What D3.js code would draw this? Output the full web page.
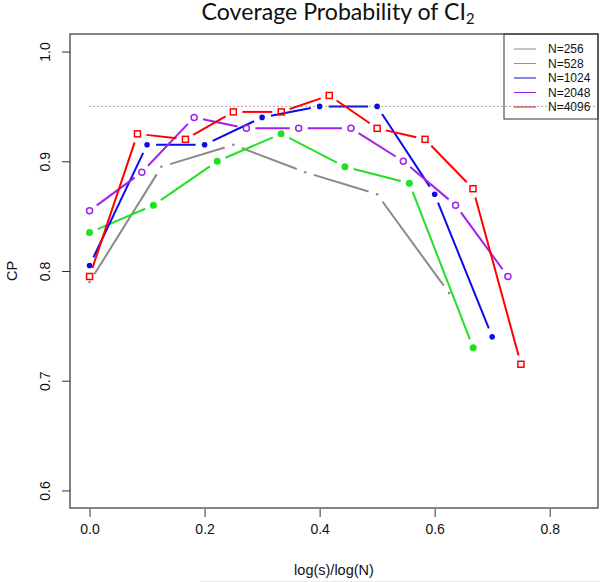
<!DOCTYPE html>
<html>
<head>
<meta charset="utf-8">
<script src="https://cdn.jsdelivr.net/npm/d3@7"></script>
<style>
  html, body { margin: 0; padding: 0; background: #fff; }
  svg { display: block; }
</style>
</head>
<body>
<div id="chart"></div>
<script>
// ---- data ----
const seriesNames = ["N=256", "N=528", "N=1024", "N=2048", "N=4096"];
const x256  = [0, 0.125, 0.25, 0.375, 0.5, 0.625];
const cp256 = [0.79, 0.895, 0.915, 0.89, 0.87, 0.78];
const x528  = [0, 0.111, 0.222, 0.333, 0.444, 0.556, 0.667];
const cp528 = [0.835, 0.86, 0.90, 0.925, 0.895, 0.88, 0.73];
const x1024  = [0, 0.1, 0.2, 0.3, 0.4, 0.5, 0.6, 0.7];
const cp1024 = [0.805, 0.915, 0.915, 0.94, 0.95, 0.95, 0.87, 0.74];
const x2048  = [0, 0.0909, 0.1818, 0.2727, 0.3636, 0.4545, 0.5455, 0.6364, 0.7273];
const cp2048 = [0.855, 0.89, 0.94, 0.93, 0.93, 0.93, 0.90, 0.86, 0.795];
const x4096  = [0, 0.0833, 0.1667, 0.25, 0.3333, 0.4167, 0.5, 0.5833, 0.6667, 0.75];
const cp4096 = [0.795, 0.925, 0.92, 0.945, 0.945, 0.96, 0.93, 0.92, 0.875, 0.715];
const nominal = 0.95;
const xTicks = [0.0, 0.2, 0.4, 0.6, 0.8];
const yTicks = [0.6, 0.7, 0.8, 0.9, 1.0];
const xDomain = [-0.034, 0.884];
const yDomain = [0.584, 1.016];

const W = 600, H = 582;
const box = {l: 70, r: 598, t: 34, b: 508};

const svg = d3.select("#chart").append("svg").attr("width", W).attr("height", H);
const x = d3.scaleLinear().domain(xDomain).range([box.l, box.r]);
const y = d3.scaleLinear().domain(yDomain).range([box.b, box.t]);

const styles = [
  {color: "#8a8a8a", mark: "dot"},
  {color: "#22e022", mark: "filled", r: 3.5},
  {color: "#0a0af0", mark: "filled", r: 2.8},
  {color: "#a020f0", mark: "circle", r: 3},
  {color: "#ff0000", mark: "square", s: 6}
];
const xsList = [x256, x528, x1024, x2048, x4096];
const ysList = [cp256, cp528, cp1024, cp2048, cp4096];

svg.append("rect").attr("width", W).attr("height", H).attr("fill", "#fff");

// title
const title = svg.append("text")
  .attr("x", 338).attr("y", 20)
  .attr("text-anchor", "middle")
  .attr("font-family", "Lato, 'Open Sans', sans-serif")
  .attr("font-size", 22)
  .attr("fill", "#111");
title.append("tspan").text("Coverage Probability of CI");
title.append("tspan").attr("font-size", 14).attr("dy", 4).text("2");
// fit width to ~273px
const bb = title.node().getBBox();
if (bb.width > 0) {
  const f = 273 / bb.width;
  title.attr("font-size", 22 * f);
  title.select("tspan:nth-child(2)").attr("font-size", 14 * f);
}

const plot = svg.append("g");

// series (type = "b": points and gapped lines)
const gap = 9;
xsList.forEach((xs, i) => {
  const st = styles[i];
  const pts = xs.map((v, j) => [x(v), y(ysList[i][j])]);
  const g = plot.append("g");
  for (let j = 0; j < pts.length - 1; j++) {
    const [x1, y1] = pts[j], [x2, y2] = pts[j + 1];
    const dx = x2 - x1, dy = y2 - y1, L = Math.hypot(dx, dy);
    if (L <= 2 * gap) continue;
    const ux = dx / L, uy = dy / L;
    g.append("line")
      .attr("x1", x1 + ux * gap).attr("y1", y1 + uy * gap)
      .attr("x2", x2 - ux * gap).attr("y2", y2 - uy * gap)
      .attr("stroke", st.color).attr("stroke-width", 2);
  }
  pts.forEach(([px, py]) => {
    if (st.mark === "dot") {
      g.append("circle").attr("cx", px).attr("cy", py).attr("r", 1.3).attr("fill", st.color);
    } else if (st.mark === "filled") {
      g.append("circle").attr("cx", px).attr("cy", py).attr("r", st.r).attr("fill", st.color);
    } else if (st.mark === "circle") {
      g.append("circle").attr("cx", px).attr("cy", py).attr("r", st.r)
        .attr("fill", "none").attr("stroke", st.color).attr("stroke-width", 1.5);
    } else {
      g.append("rect").attr("x", px - st.s / 2).attr("y", py - st.s / 2)
        .attr("width", st.s).attr("height", st.s)
        .attr("fill", "none").attr("stroke", st.color).attr("stroke-width", 1.5);
    }
  });
});

// legend
const lg = svg.append("g");
const lgBox = {x: 504, y: 34, w: 94, h: 85};
lg.append("rect").attr("x", lgBox.x).attr("y", lgBox.y).attr("width", lgBox.w).attr("height", lgBox.h)
  .attr("fill", "#fff").attr("stroke", "#333").attr("stroke-width", 1);
seriesNames.forEach((nm, i) => {
  const ry = 49 + i * 14.5;
  lg.append("line").attr("x1", 514).attr("x2", 536).attr("y1", ry).attr("y2", ry)
    .attr("stroke", styles[i].color).attr("stroke-width", 1);
  lg.append("text").attr("x", 548).attr("y", ry + 4.3)
    .attr("font-family", "'Liberation Sans', Arial, sans-serif").attr("font-size", 12)
    .attr("fill", "#111").text(nm);
});

// nominal level dotted line
svg.append("line")
  .attr("x1", x(0)).attr("x2", box.r)
  .attr("y1", y(nominal)).attr("y2", y(nominal))
  .attr("stroke", "#555").attr("stroke-width", 1).attr("stroke-dasharray", "1,3");

// box
svg.append("rect").attr("x", box.l).attr("y", box.t)
  .attr("width", box.r - box.l).attr("height", box.b - box.t)
  .attr("fill", "none").attr("stroke", "#333").attr("stroke-width", 1.2);

// x axis
const xAxis = d3.axisBottom(x).tickValues(xTicks).tickFormat(d3.format(".1f")).tickSize(8).tickSizeOuter(0);
const gx = svg.append("g").attr("transform", `translate(0,${box.b + 1})`).call(xAxis);
gx.select(".domain").remove();
gx.selectAll(".tick line").attr("stroke", "#333");
gx.selectAll(".tick text").attr("y", 25).attr("dy", 0)
  .attr("font-family", "'Liberation Sans', Arial, sans-serif").attr("font-size", 14).attr("fill", "#111");

// y axis
const yAxis = d3.axisLeft(y).tickValues(yTicks).tickFormat(d3.format(".1f")).tickSize(8).tickSizeOuter(0);
const gy = svg.append("g").attr("transform", `translate(${box.l},0)`).call(yAxis);
gy.select(".domain").remove();
gy.selectAll(".tick line").attr("stroke", "#333");
gy.selectAll(".tick text")
  .attr("x", 0).attr("dy", 0)
  .attr("text-anchor", "middle")
  .attr("transform", "translate(-20,0) rotate(-90)")
  .attr("font-family", "'Liberation Sans', Arial, sans-serif").attr("font-size", 14).attr("fill", "#111");

// axis labels
svg.append("text").attr("x", (box.l + box.r) / 2).attr("y", 575)
  .attr("text-anchor", "middle")
  .attr("font-family", "'Liberation Sans', Arial, sans-serif").attr("font-size", 14.5)
  .attr("fill", "#111").text("log(s)/log(N)");
svg.append("text")
  .attr("transform", `translate(17,${(box.t + box.b) / 2}) rotate(-90)`)
  .attr("text-anchor", "middle")
  .attr("font-family", "'Liberation Sans', Arial, sans-serif").attr("font-size", 14.5)
  .attr("fill", "#111").text("CP");

// faint line at the bottom edge
svg.append("line").attr("x1", 200).attr("x2", 600).attr("y1", 581.5).attr("y2", 581.5)
  .attr("stroke", "#ececec").attr("stroke-width", 1);
</script>
</body>
</html>
